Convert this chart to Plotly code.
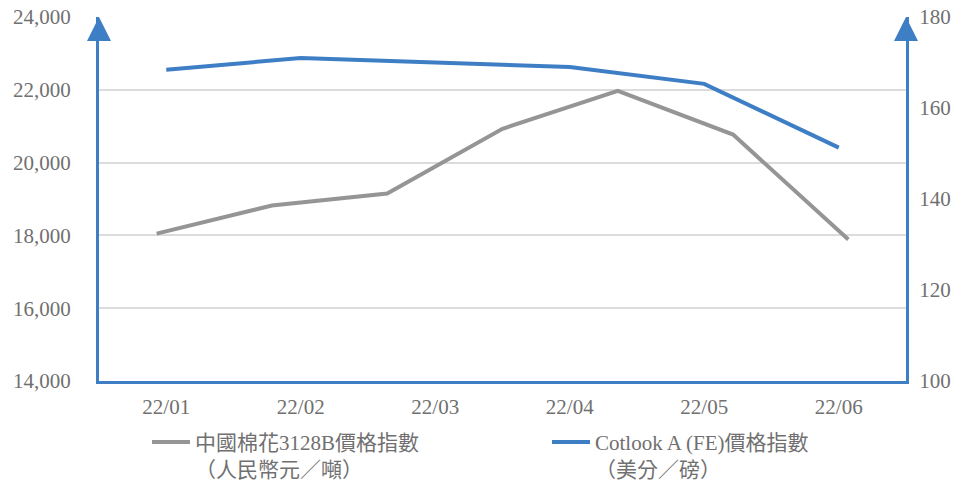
import plotly.graph_objects as go

# Data
months = ["22/01", "22/02", "22/03", "22/04", "22/05", "22/06"]
cotlook_a = [168.4, 171.0, 170.0, 169.0, 165.3, 151.3]

china_points = ["p1", "p2", "p3", "p4", "p5", "p6", "p7"]
china_3128b = [18050, 18820, 19150, 20930, 21970, 20770, 17890]

left_ticks = [14000, 16000, 18000, 20000, 22000, 24000]
right_ticks = [100, 120, 140, 160, 180]

BLUE = "#3E7EC5"
GREY = "#959595"
TXT = "#707070"
FONT = "Liberation Serif, Noto Sans CJK TC, serif"

fig = go.Figure()

fig.add_trace(go.Scatter(
    x=china_points, y=china_3128b, xaxis="x", yaxis="y",
    mode="lines", line=dict(color=GREY, width=4),
    name="中國棉花3128B價格指數<br>（人民幣元／噸）",
))
fig.add_trace(go.Scatter(
    x=months, y=cotlook_a, xaxis="x2", yaxis="y2",
    mode="lines", line=dict(color=BLUE, width=4),
    name="Cotlook A (FE)價格指數<br>（美分／磅）",
))

fig.update_layout(
    width=962, height=489,
    margin=dict(l=99, r=56, t=17, b=108, autoexpand=False),
    paper_bgcolor="white", plot_bgcolor="white",
    font=dict(family=FONT, size=21, color=TXT),
    showlegend=True,
    legend=dict(
        orientation="h", xref="container", x=0.1528, xanchor="left",
        y=-0.112, yanchor="top",
        entrywidth=347, entrywidthmode="pixels", valign="top",
        font=dict(family=FONT, size=21, color=TXT),
        itemwidth=38,
    ),
    xaxis=dict(
        type="category", categoryorder="array", categoryarray=china_points,
        range=[-0.5, 6.5], showgrid=False, zeroline=False,
        showticklabels=False, showline=False, ticks="",
    ),
    xaxis2=dict(
        type="category", categoryorder="array", categoryarray=months,
        range=[-0.5, 5.5], overlaying="x", side="bottom", anchor="y2",
        showgrid=False, zeroline=False,
        showline=True, linecolor=BLUE, linewidth=3,
        ticks="", ticklabelstandoff=5,
        tickfont=dict(family=FONT, size=21, color=TXT),
    ),
    yaxis=dict(
        range=[14000, 24000], tickvals=left_ticks, tickformat=",d",
        showgrid=True, gridcolor="#DCDCDC", gridwidth=1.5, zeroline=False,
        showline=True, linecolor=BLUE, linewidth=3, ticks="",
        ticklabelstandoff=21,
        tickfont=dict(family=FONT, size=21, color=TXT),
    ),
    yaxis2=dict(
        range=[100, 180], tickvals=right_ticks, overlaying="y", side="right",
        anchor="x2", showgrid=False, zeroline=False,
        showline=True, linecolor=BLUE, linewidth=3, ticks="",
        ticklabelstandoff=6,
        tickfont=dict(family=FONT, size=21, color=TXT),
    ),
)

# Arrowheads on top of both value axes
for xp in (0, 1):
    fig.add_annotation(
        xref="paper", yref="paper", x=xp, y=1, ax=0, ay=25,
        showarrow=True, arrowhead=2, arrowsize=1.6, arrowwidth=3,
        arrowcolor=BLUE, text="",
    )

# remove the default 8px page margin so the figure sits at the window's corner
fig.write_html(
    "out.html",
    config={"displayModeBar": False},
    post_script="document.body.style.margin='0';",
)
